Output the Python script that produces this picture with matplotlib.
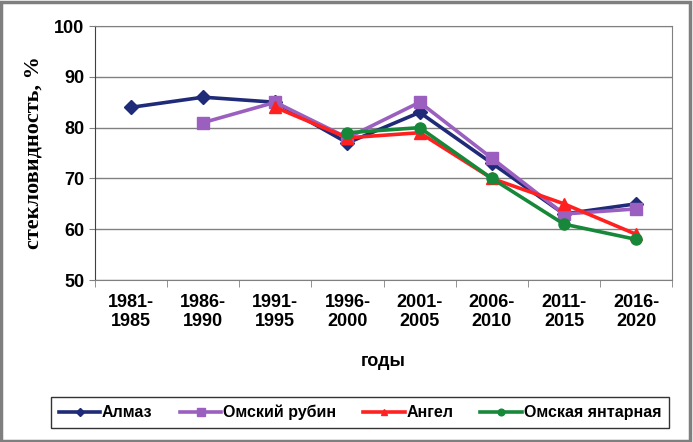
import numpy as np
import matplotlib.pyplot as plt
from matplotlib.patches import Rectangle

# periods and glassiness values, %
periods = ['1981-\n1985', '1986-\n1990', '1991-\n1995', '1996-\n2000',
           '2001-\n2005', '2006-\n2010', '2011-\n2015', '2016-\n2020']
almaz = [84, 86, 85, 77, 83, 73, 63, 65]
rubin = [np.nan, 81, 85, 78, 85, 74, 63, 64]
angel = [np.nan, np.nan, 84, 78, 79, 70, 65, 59]
yantar = [np.nan, np.nan, np.nan, 79, 80, 70, 61, 58]

plt.rcParams['font.family'] = ['Liberation Sans', 'DejaVu Sans']

fig = plt.figure(figsize=(6.93, 4.42), dpi=100)
fig.patches.append(Rectangle((0.002, 0.003), 0.994, 0.993, transform=fig.transFigure,
                             fill=False, edgecolor='#7f7f7f', linewidth=2.5))

ax = fig.add_axes([0.137, 0.3665, 0.833, 0.5745])
x = np.arange(len(periods))

ax.plot(x, almaz, color='#1f2a78', marker='D', markersize=7, linewidth=2.6, label='Алмаз')
ax.plot(x, rubin, color='#9b5fc0', marker='s', markersize=9, linewidth=2.6, label='Омский рубин')
ax.plot(x, angel, color='#ff2020', marker='^', markersize=8, linewidth=2.6, label='Ангел')
ax.plot(x, yantar, color='#17883a', marker='o', markersize=8, linewidth=2.6, label='Омская янтарная')

ax.set_xlim(-0.5, len(periods) - 0.5)
ax.set_ylim(50, 100)
ax.set_yticks(range(50, 101, 10))
ax.yaxis.grid(True, color='#808080', linewidth=1)
ax.set_axisbelow(True)

ax.set_xticks(x)
ax.set_xticklabels(periods, fontsize=13, fontweight='bold', linespacing=1.2)
ax.tick_params(axis='x', length=0, pad=10)
ax.set_xticks(np.arange(-0.5, len(periods), 1), minor=True)
ax.tick_params(axis='x', which='minor', length=5, color='#808080')
ax.tick_params(axis='y', labelsize=13, length=4, color='#808080')
for lab in ax.get_yticklabels():
    lab.set_fontweight('bold')

for s in ['top', 'right']:
    ax.spines[s].set_color('#808080')
ax.spines['left'].set_color('#404040')
ax.spines['bottom'].set_color('#808080')

ax.set_xlabel('годы', fontsize=13, fontweight='bold', labelpad=16)
ax.set_ylabel('стекловидность, %', fontsize=16, fontweight='bold',
              family=['Liberation Serif', 'DejaVu Serif'], labelpad=8)

leg = fig.legend(loc='center', bbox_to_anchor=(0.062, 0.027, 0.915, 0.08), mode='expand',
                 ncol=4, frameon=True, fancybox=False, edgecolor='black', fontsize=11.5,
                 handlelength=2.6, handletextpad=0.1, borderpad=0.5, markerscale=0.6)
leg.get_frame().set_linewidth(1)
for t in leg.get_texts():
    t.set_fontweight('bold')

fig.savefig('out.png', dpi=100)
